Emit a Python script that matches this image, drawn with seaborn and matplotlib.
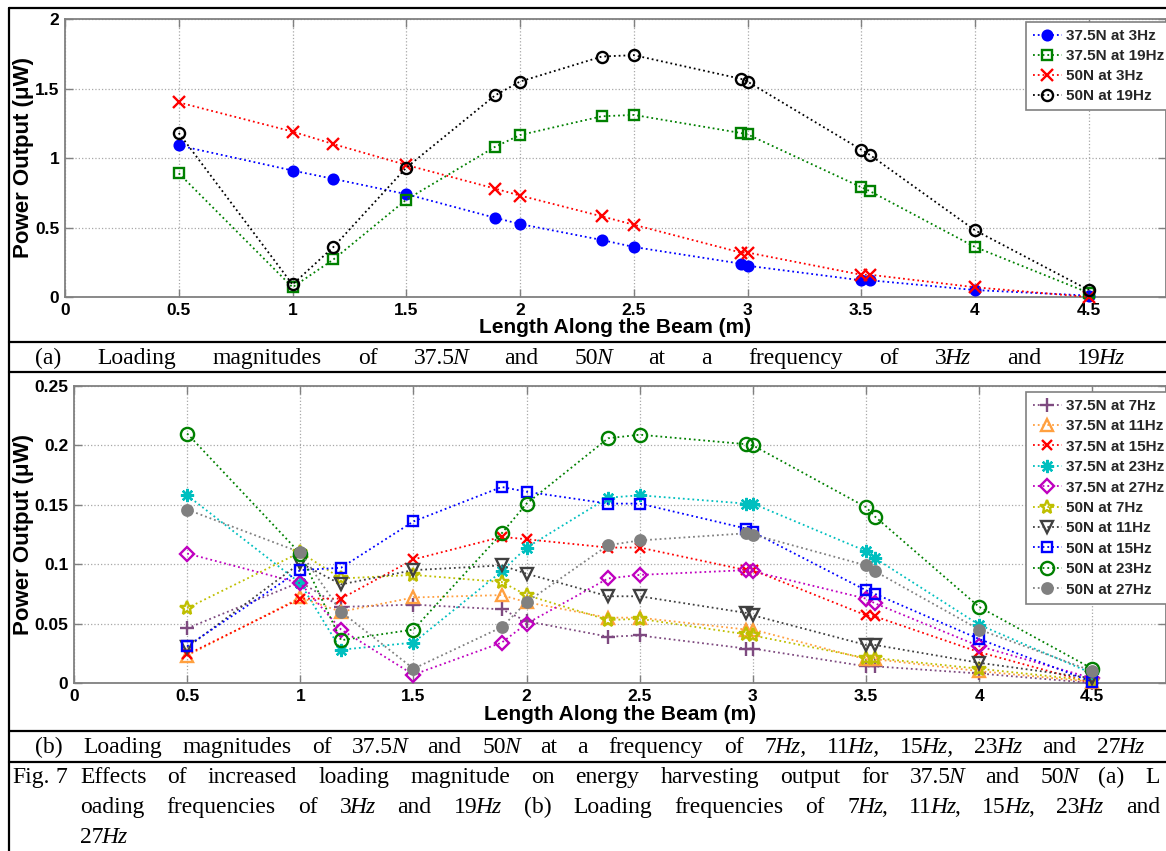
import matplotlib
matplotlib.use("Agg")
import matplotlib.pyplot as plt
import seaborn as sns
import numpy as np
import pandas as pd
from matplotlib.lines import Line2D

W, H = 1166, 851

# ---------------- data ----------------
x_pos = [0.5, 1.0, 1.18, 1.5, 1.89, 2.0, 2.36, 2.5, 2.97, 3.0, 3.5, 3.54, 4.0, 4.5]

# panel (a)
a_375N_3Hz = [1.09, 0.91, 0.85, 0.74, 0.57, 0.525, 0.41, 0.36, 0.24, 0.225, 0.12, 0.12, 0.05, 0.01]
a_375N_19Hz = [0.89, 0.07, 0.27, 0.70, 1.08, 1.165, 1.30, 1.31, 1.18, 1.17, 0.79, 0.76, 0.36, 0.03]
a_50N_3Hz = [1.40, 1.19, 1.10, 0.95, 0.78, 0.73, 0.58, 0.52, 0.32, 0.32, 0.16, 0.16, 0.07, 0.0]
a_50N_19Hz = [1.18, 0.09, 0.36, 0.93, 1.45, 1.55, 1.73, 1.74, 1.57, 1.55, 1.06, 1.02, 0.48, 0.05]

# panel (b)
b_375N_7Hz = [0.046, 0.085, 0.064, 0.066, 0.062, 0.052, 0.039, 0.040, 0.029, 0.029, 0.014, 0.014, 0.008, 0.0]
b_375N_11Hz = [0.023, 0.072, 0.060, 0.072, 0.074, 0.068, 0.055, 0.055, 0.045, 0.045, 0.020, 0.020, 0.010, 0.001]
b_375N_15Hz = [0.024, 0.071, 0.071, 0.104, 0.123, 0.121, 0.114, 0.114, 0.095, 0.095, 0.057, 0.056, 0.026, 0.0]
b_375N_23Hz = [0.158, 0.084, 0.028, 0.034, 0.094, 0.114, 0.156, 0.158, 0.151, 0.151, 0.111, 0.105, 0.049, 0.008]
b_375N_27Hz = [0.109, 0.084, 0.045, 0.007, 0.034, 0.050, 0.088, 0.091, 0.095, 0.094, 0.071, 0.067, 0.031, 0.004]
b_50N_7Hz = [0.063, 0.110, 0.088, 0.091, 0.085, 0.074, 0.053, 0.054, 0.041, 0.040, 0.021, 0.021, 0.012, 0.002]
b_50N_11Hz = [0.030, 0.101, 0.083, 0.095, 0.099, 0.092, 0.073, 0.073, 0.059, 0.057, 0.032, 0.032, 0.017, 0.004]
b_50N_15Hz = [0.031, 0.095, 0.097, 0.136, 0.165, 0.161, 0.151, 0.151, 0.130, 0.127, 0.078, 0.075, 0.037, 0.001]
b_50N_23Hz = [0.210, 0.109, 0.036, 0.045, 0.126, 0.151, 0.206, 0.209, 0.201, 0.200, 0.148, 0.140, 0.064, 0.012]
b_50N_27Hz = [0.146, 0.110, 0.060, 0.012, 0.047, 0.068, 0.116, 0.120, 0.126, 0.125, 0.099, 0.094, 0.045, 0.010]

a_labels = ["37.5N at 3Hz", "37.5N at 19Hz", "50N at 3Hz", "50N at 19Hz"]
b_labels = ["37.5N at 7Hz", "37.5N at 11Hz", "37.5N at 15Hz", "37.5N at 23Hz", "37.5N at 27Hz",
            "50N at 7Hz", "50N at 11Hz", "50N at 15Hz", "50N at 23Hz", "50N at 27Hz"]

x_ticks = [0, 0.5, 1, 1.5, 2, 2.5, 3, 3.5, 4, 4.5]
x_tick_labels = ["0", "0.5", "1", "1.5", "2", "2.5", "3", "3.5", "4", "4.5"]
a_yticks = [0, 0.5, 1, 1.5, 2]
a_ytick_labels = ["0", "0.5", "1", "1.5", "2"]
b_yticks = [0, 0.05, 0.1, 0.15, 0.2, 0.25]
b_ytick_labels = ["0", "0.05", "0.1", "0.15", "0.2", "0.25"]

x_label = "Length Along the Beam (m)"
y_label = "Power Output (\u03bcW)"

cap_a = "(a) Loading magnitudes of 37.5*N* and 50*N* at a frequency of 3*Hz* and 19*Hz*"
cap_b = "(b) Loading magnitudes of 37.5*N* and 50*N* at a frequency of 7*Hz,* 11*Hz,* 15*Hz,* 23*Hz* and 27*Hz*"
fig_tag = "Fig. 7"
fig_l1 = "Effects of increased loading magnitude on energy harvesting output for 37.5*N* and 50*N* (a) L"
fig_l2 = "oading frequencies of 3*Hz* and 19*Hz* (b) Loading frequencies of 7*Hz*, 11*Hz*, 15*Hz*, 23*Hz* and"
fig_l3 = "27*Hz*"

# ---------------- styles ----------------
a_styles = [  # color, marker, size, filled
    ("#0000ff", "o", 7.0, True),
    ("#008000", "s", 6.5, False),
    ("#ff0000", "x", 8.0, False),
    ("#000000", "o", 8.0, False),
]
b_styles = [
    ("#7e4a80", "+", 9.5, False),
    ("#ffa040", "^", 9.0, False),
    ("#ff0000", "x", 7.5, False),
    ("#00bfbf", (8, 2, 0), 9.5, False),
    ("#bf00bf", "D", 7.0, False),
    ("#bfbf00", "*", 10.5, False),
    ("#404040", "v", 9.0, False),
    ("#0000ff", "s", 7.5, False),
    ("#008000", "o", 9.5, False),
    ("#808080", "o", 7.5, True),
]

sns.set_theme(style="white")
plt.rcParams['font.family'] = ['Liberation Sans', 'DejaVu Sans']

fig = plt.figure(figsize=(W / 100, H / 100), dpi=100)
fig.patch.set_facecolor("white")


def fx(x):
    return x / W


def fy(y):
    return 1 - y / H


# axes in pixel geometry
a_left, a_top, a_bot = 65, 19, 297
b_left, b_top, b_bot = 74, 386, 683
a_ppu, b_ppu = 227.5, 226.3

ax1 = fig.add_axes([fx(a_left), fy(a_bot), (W - a_left) / W, (a_bot - a_top) / H])
ax2 = fig.add_axes([fx(b_left), fy(b_bot), (W - b_left) / W, (b_bot - b_top) / H])

a_series = [a_375N_3Hz, a_375N_19Hz, a_50N_3Hz, a_50N_19Hz]
b_series = [b_375N_7Hz, b_375N_11Hz, b_375N_15Hz, b_375N_23Hz, b_375N_27Hz,
            b_50N_7Hz, b_50N_11Hz, b_50N_15Hz, b_50N_23Hz, b_50N_27Hz]


def draw(ax, series, labels, styles):
    for vals, lab, (c, m, ms, filled) in zip(series, labels, styles):
        sns.lineplot(x=x_pos, y=vals, ax=ax, color=c, marker=m, linestyle=":",
                     linewidth=1.3, markersize=ms, markeredgewidth=1.7,
                     markeredgecolor=c, markerfacecolor=(c if filled else "none"),
                     label=lab, sort=False, estimator=None, errorbar=None,
                     clip_on=False, zorder=3)


draw(ax1, a_series, a_labels, a_styles)
draw(ax2, b_series, b_labels, b_styles)


def style(ax, xmax, ymax, yticks, ylabels, label_y, ylab_x):
    ax.set_xlim(0, xmax)
    ax.set_ylim(0, ymax)
    ax.set_xticks(x_ticks)
    ax.set_xticklabels(x_tick_labels, fontweight="bold", fontsize=12.5)
    ax.set_yticks(yticks)
    ax.set_yticklabels(ylabels, fontweight="bold", fontsize=12.5)
    ax.tick_params(direction="in", length=6, width=1, color="#808080",
                   top=True, right=True, bottom=True, left=True, pad=4,
                   labelcolor="black")
    ax.grid(True, linestyle=":", color="#a8a8a8", linewidth=0.9)
    ax.set_axisbelow(True)
    for s in ax.spines.values():
        s.set_visible(True)
        s.set_color("#808080")
        s.set_linewidth(1.3)
    ax.set_xlabel(x_label, fontsize=15, fontweight="bold", color="black")
    ax.set_ylabel(y_label, fontsize=16, fontweight="bold", color="black")
    ax.xaxis.set_label_coords(0.5, label_y)
    ax.yaxis.set_label_coords(ylab_x, 0.5)


style(ax1, (W - a_left) / a_ppu, 2, a_yticks, a_ytick_labels,
      (a_bot - 318) / (a_bot - a_top), (34 - a_left) / (W - a_left))
style(ax2, (W - b_left) / b_ppu, 0.25, b_yticks, b_ytick_labels,
      (b_bot - 705) / (b_bot - b_top), (34 - b_left) / (W - b_left))

for ax, top, sp in ((ax1, 22, 0.40), (ax2, 392, 0.42)):
    leg = ax.legend(loc="upper left", bbox_to_anchor=(fx(1026), fy(top)),
                    bbox_transform=fig.transFigure, frameon=True, fancybox=False,
                    edgecolor="#808080", framealpha=1, borderaxespad=0,
                    borderpad=0.45, labelspacing=sp, handlelength=1.9,
                    handletextpad=0.3, prop={"weight": "bold", "size": 11})
    leg.get_frame().set_linewidth(1.2)
    leg.set_zorder(10)

# ---------------- table borders ----------------
def hline(y, x0=9, x1=W):
    fig.add_artist(Line2D([fx(x0), fx(x1)], [fy(y), fy(y)], color="black", lw=1.6))


hline(8)
hline(342)
hline(372)
hline(731)
hline(762)
fig.add_artist(Line2D([fx(9), fx(9)], [fy(8), fy(H)], color="black", lw=1.6))

# ---------------- captions ----------------
renderer = fig.canvas.get_renderer()
CAP_SIZE = 17


def parse(line):
    words = []
    for w in line.split(" "):
        parts = w.split("*")
        segs = [(p, i % 2 == 1) for i, p in enumerate(parts) if p != ""]
        words.append(segs)
    return words


def place(line, x0, x1, ybase, justify=True):
    words = parse(line)
    made, widths = [], []
    for segs in words:
        row, tot = [], 0.0
        prev_it = None
        for s, it in segs:
            t = fig.text(0, 0, s, fontsize=CAP_SIZE, family="Liberation Serif",
                         style=("italic" if it else "normal"), ha="left", va="baseline",
                         color="black")
            bw = t.get_window_extent(renderer).width
            kern = -2.0 if (prev_it is not None and prev_it != it) else 0.0
            row.append((t, bw, kern))
            tot += bw + kern
            prev_it = it
        made.append(row)
        widths.append(tot)
    if justify and len(words) > 1:
        gap = (x1 - x0 - sum(widths)) / (len(words) - 1)
    else:
        gap = CAP_SIZE * 100 / 72 * 0.25
    x = x0
    for row, wd in zip(made, widths):
        xx = x
        for t, bw, kern in row:
            xx += kern
            t.set_position((fx(xx), fy(ybase)))
            xx += bw
        x += wd + gap


place(cap_a, 35, 1125, 364)
place(cap_b, 35, 1145, 753)
place(fig_tag, 12, 70, 783, justify=False)
place(fig_l1, 80, 1160, 783)
place(fig_l2, 80, 1160, 813)
place(fig_l3, 80, 1160, 843, justify=False)

fig.savefig("out.png", dpi=100, facecolor="white")
